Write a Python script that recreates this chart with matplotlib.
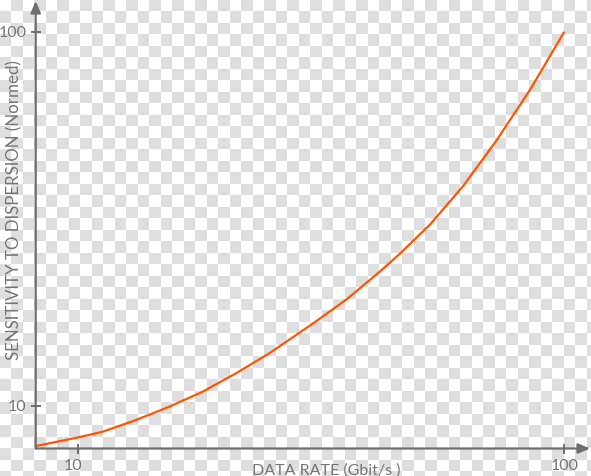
import numpy as np
import matplotlib
matplotlib.use("Agg")
import matplotlib.pyplot as plt
import matplotlib.transforms as mtransforms

# Curve (data rate vs. normed sensitivity)
rate = [2.29, 10.0, 14.62, 20.78, 26.94, 33.12, 39.28, 45.44, 53.57,
        59.75, 65.91, 69.61, 75.16, 81.31, 87.49, 93.65, 100.0]
sensitivity = [0.30, 2.35, 3.74, 6.56, 9.76, 13.37, 17.80, 22.61, 29.83,
               35.60, 42.3, 46.6, 53.6, 62.9, 73.9, 86.0, 100.0]

x_ticks = [10, 100]
y_ticks = [10, 100]
x_label = "DATA RATE (Gbit/s )"
y_label = "SENSITIVITY TO DISPERSION (Normed)"

W, H = 591, 476
axis_color = "#6e6e6e"
text_color = "#757575"
line_color = "#ff5500"

plt.rcParams["font.family"] = ["Lato", "DejaVu Sans"]

fig = plt.figure(figsize=(W / 100, H / 100), dpi=100)

# transparent-look checkerboard behind everything
bg = fig.add_axes([0, 0, 1, 1], zorder=0)
sq = 11.5
nx, ny = int(np.ceil(W / sq)), int(np.ceil(H / sq))
board = (np.add.outer(np.arange(ny), np.arange(nx)) % 2).astype(float)
bg.imshow(board, cmap=matplotlib.colors.ListedColormap(["#ffffff", "#dedede"]),
          extent=[0, nx * sq, ny * sq, 0], interpolation="nearest", aspect="auto")
bg.set_xlim(0, W)
bg.set_ylim(H, 0)
bg.axis("off")

ax = fig.add_axes([35.7 / W, (H - 448.5) / H, (590 - 35.7) / W, (448.5 - 1) / H], zorder=1)
ax.patch.set_alpha(0)
ax.set_xlim(2.23, 104.75)
ax.set_ylim(-0.30, 107.4)
for s in ax.spines.values():
    s.set_visible(False)

# axis lines with arrow heads
arrow = dict(arrowstyle="-|>,head_length=0.7,head_width=0.3", color=axis_color, lw=1.6,
             shrinkA=0, shrinkB=0)
ax.annotate("", xy=(1, 0), xytext=(0, 0), xycoords="axes fraction", arrowprops=arrow)
ax.annotate("", xy=(0, 1), xytext=(0, 0), xycoords="axes fraction", arrowprops=arrow)

ax.plot(rate, sensitivity, color=line_color, lw=1.6, solid_capstyle="butt")

ax.set_xticks(x_ticks)
ax.set_yticks(y_ticks)
ax.set_xticklabels([str(t) for t in x_ticks])
ax.set_yticklabels([str(t) for t in y_ticks])
ax.tick_params(direction="inout", length=7, width=1.4, color=axis_color,
               labelcolor=text_color, labelsize=11.5)
ax.tick_params(axis="x", pad=4)
ax.tick_params(axis="y", pad=3)

# the "10" under the x axis sits a little left of its tick
shift = mtransforms.ScaledTranslation(-5 / 100, 0, fig.dpi_scale_trans)
first = ax.get_xticklabels()[0]
first.set_transform(first.get_transform() + shift)

# axis titles placed in figure pixels
fig.text(326 / W, (H - 474.5) / H, x_label, color=text_color, fontsize=11.5,
         ha="center", va="baseline")
fig.text(14 / W, (H - 210) / H, y_label, color=text_color, fontsize=12.2,
         ha="center", va="center", rotation=90)

fig.savefig("out.png", dpi=100)
